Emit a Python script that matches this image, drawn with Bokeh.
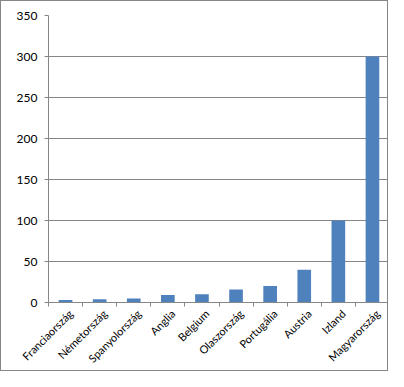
import math
from bokeh.plotting import figure
from bokeh.models import FixedTicker, Range1d
from bokeh.embed import file_html
from bokeh.resources import INLINE

categories = ["Franciaország", "Németország", "Spanyolország", "Anglia", "Belgium",
              "Olaszország", "Portugália", "Austria", "Izland", "Magyarország"]
values = [3, 4, 5, 9, 10, 16, 20, 40, 100, 300]
y_ticks = [0, 50, 100, 150, 200, 250, 300, 350]

GRAY = "#868686"
FONT = "Lato"
LABEL_SHIFT = 0.15  # label anchor offset to the right, in category widths

n = len(categories)
xs = [i + 0.5 for i in range(n)]
label_pos = [x + LABEL_SHIFT for x in xs]

p = figure(width=388, height=371, output_backend="svg", toolbar_location=None,
           x_range=Range1d(0, n), y_range=Range1d(0, 350),
           min_border_left=47, min_border_right=0, min_border_top=14, min_border_bottom=69,
           styles={"border": "1px solid #868686", "box-sizing": "border-box"})
p.outline_line_color = None
p.background_fill_color = "white"
p.border_fill_color = "white"

p.vbar(x=xs, top=values, width=0.4, bottom=0, color="#4F81BD", line_color=None)

# y axis
p.yaxis.ticker = FixedTicker(ticks=y_ticks, minor_ticks=[])
p.yaxis.axis_line_color = GRAY
p.yaxis.major_tick_line_color = GRAY
p.yaxis.major_tick_out = 4
p.yaxis.major_tick_in = 0
p.yaxis.minor_tick_line_color = None
p.yaxis.major_label_text_font = FONT
p.yaxis.major_label_text_font_size = "12px"
p.yaxis.major_label_text_color = "black"
p.yaxis.major_label_standoff = 7

p.ygrid.grid_line_color = GRAY
p.ygrid.ticker = FixedTicker(ticks=y_ticks)
p.xgrid.grid_line_color = None

# x axis: tick marks at category boundaries, rotated labels near centers
p.xaxis.ticker = FixedTicker(ticks=label_pos, minor_ticks=list(range(n + 1)))
p.xaxis.major_label_overrides = {x: c for x, c in zip(label_pos, categories)}
p.xaxis.axis_line_color = GRAY
p.xaxis.major_tick_line_color = None
p.xaxis.major_tick_out = 0
p.xaxis.major_tick_in = 0
p.xaxis.minor_tick_line_color = GRAY
p.xaxis.minor_tick_out = 4
p.xaxis.minor_tick_in = 0
p.xaxis.major_label_orientation = math.pi / 4
p.xaxis.major_label_text_font = FONT
p.xaxis.major_label_text_font_size = "11px"
p.xaxis.major_label_text_color = "black"
p.xaxis.major_label_standoff = 5

open("out.html", "w").write(file_html(p, INLINE))
